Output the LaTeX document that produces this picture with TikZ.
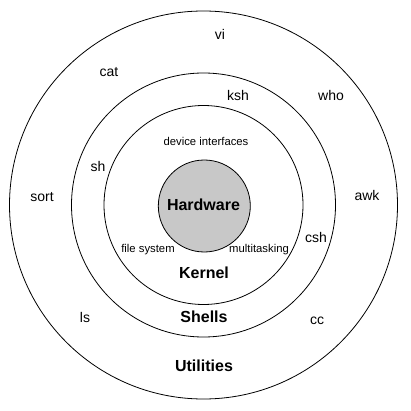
\documentclass[tikz,border=0pt]{standalone}
\usepackage{fontspec}
\setmainfont{Liberation Sans}
\begin{document}
\begin{tikzpicture}[x=1pt,y=-1pt,
  ring/.style={draw=black,line width=0.8pt},
  cmd/.style={font=\fontsize{14}{16}\selectfont,inner sep=0pt,text height=0.72em,text depth=0.21em},
  small/.style={font=\fontsize{11.3}{13}\selectfont,inner sep=0pt,text height=0.72em,text depth=0.21em},
  layer/.style={font=\fontsize{16}{18}\selectfont\bfseries,inner sep=0pt,text height=0.72em,text depth=0.21em}]
\useasboundingbox (0,0) rectangle (411,411);
\fill[white] (0,0) rectangle (411,411);
\draw[ring] (203.5,205) circle (194);
\draw[ring] (203.5,205) circle (132);
\draw[ring] (203.5,205) circle (99.5);
\draw[ring,fill={rgb,255:red,200;green,200;blue,200}] (204.3,206) circle (46);
\node[layer] (hw) at (203.5,208) {Hardware};
\node[layer] (kernel) at (204,276) {Kernel};
\node[layer] (shells) at (204,320) {Shells};
\node[layer] (util) at (204,369) {Utilities};
\node[small] (dev) at (206,143) {device interfaces};
\node[small] (fs) at (148,250) {file system};
\node[small] (mt) at (259,250) {multitasking};
\node[cmd] (vi) at (220,37) {vi};
\node[cmd] (cat) at (109,74) {cat};
\node[cmd] (ksh) at (238,98) {ksh};
\node[cmd] (who) at (331,98) {who};
\node[cmd] (sh) at (98,169) {sh};
\node[cmd] (sort) at (42,199) {sort};
\node[cmd] (awk) at (367,198) {awk};
\node[cmd] (csh) at (316,240) {csh};
\node[cmd] (ls) at (85,320) {ls};
\node[cmd] (cc) at (317,322) {cc};
\end{tikzpicture}
\end{document}
